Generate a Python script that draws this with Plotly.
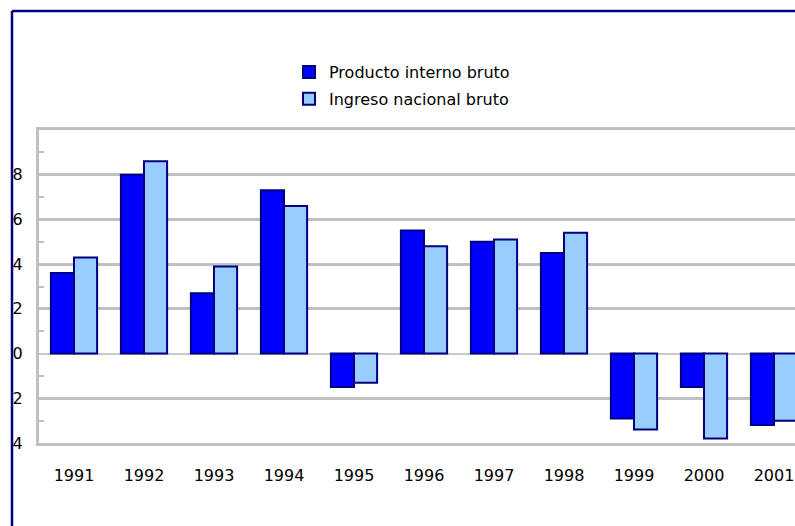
import plotly.graph_objects as go

# Annual growth rates (%), 1991-2001
years = ["1991", "1992", "1993", "1994", "1995", "1996",
         "1997", "1998", "1999", "2000", "2001"]
pib = [3.6, 8.0, 2.7, 7.3, -1.5, 5.5, 5.0, 4.5, -2.9, -1.5, -3.2]
ingreso = [4.3, 8.6, 3.9, 6.6, -1.3, 4.8, 5.1, 5.4, -3.4, -3.8, -3.0]

series_names = ["Producto interno bruto", "Ingreso nacional bruto"]
y_ticks = [-4, -2, 0, 2, 4, 6, 8, 10]

W, H = 795, 526
ML, MR, MT, MB = 39, 0, 130, 83
PW, PH = W - ML - MR, H - MT - MB


def px_x(p):
    return (p - ML) / PW


def px_y(p):
    return (H - MB - p) / PH


FONT = "DejaVu Sans"
NAVY = "#000080"
GRID = "#c0c0c0"

fig = go.Figure()
fig.add_trace(go.Bar(
    x=years, y=pib, name=series_names[0], legendgroup="a",
    marker=dict(color="#0000ff", line=dict(color=NAVY, width=2)),
))
fig.add_trace(go.Bar(
    x=years, y=ingreso, name=series_names[1], legendgroup="b",
    marker=dict(color="#99ccff", line=dict(color=NAVY, width=2)),
))

# outer frame: white strip on the left edge, then navy left/top rule
fig.add_shape(type="rect", xref="paper", yref="paper",
              x0=px_x(-5), x1=px_x(12), y0=px_y(H + 5), y1=px_y(-5),
              fillcolor="white", line=dict(width=0), layer="above")
fig.add_shape(type="line", xref="paper", yref="paper",
              x0=px_x(12), x1=px_x(12), y0=px_y(H + 5), y1=px_y(11),
              line=dict(color=NAVY, width=2.5), layer="above")
fig.add_shape(type="line", xref="paper", yref="paper",
              x0=px_x(12), x1=px_x(W + 5), y0=px_y(11), y1=px_y(11),
              line=dict(color=NAVY, width=2.5), layer="above")

fig.update_layout(
    width=W, height=H,
    margin=dict(l=ML, r=MR, t=MT, b=MB),
    paper_bgcolor="white", plot_bgcolor="white",
    barmode="group", bargap=0.34, bargroupgap=0,
    font=dict(family=FONT, size=16, color="black"),
    showlegend=True,
    legend=dict(
        x=px_x(289), y=px_y(55), xanchor="left", yanchor="top",
        bgcolor="rgba(0,0,0,0)", font=dict(family=FONT, size=16),
        traceorder="grouped", tracegroupgap=3,
    ),
    xaxis=dict(
        range=[-0.5, 10.3], showgrid=False, zeroline=False,
        showline=True, linecolor=GRID, linewidth=3, mirror=True,
        ticks="", ticklabelstandoff=16,
        tickfont=dict(family=FONT, size=16, color="black"),
    ),
    yaxis=dict(
        range=[-4, 10], tickvals=y_ticks,
        ticktext=[str(v) for v in y_ticks[:-1]] + [""],
        showgrid=True, gridcolor=GRID, gridwidth=3,
        zeroline=True, zerolinecolor="#c8c8c8", zerolinewidth=2,
        showline=True, linecolor=GRID, linewidth=3,
        ticks="", ticklabelstandoff=10,
        tickfont=dict(family=FONT, size=16, color="black"),
        minor=dict(tick0=1, dtick=2, ticks="inside", ticklen=5,
                   tickcolor=GRID, tickwidth=2, showgrid=False),
    ),
)

fig.write_html("out.html")
